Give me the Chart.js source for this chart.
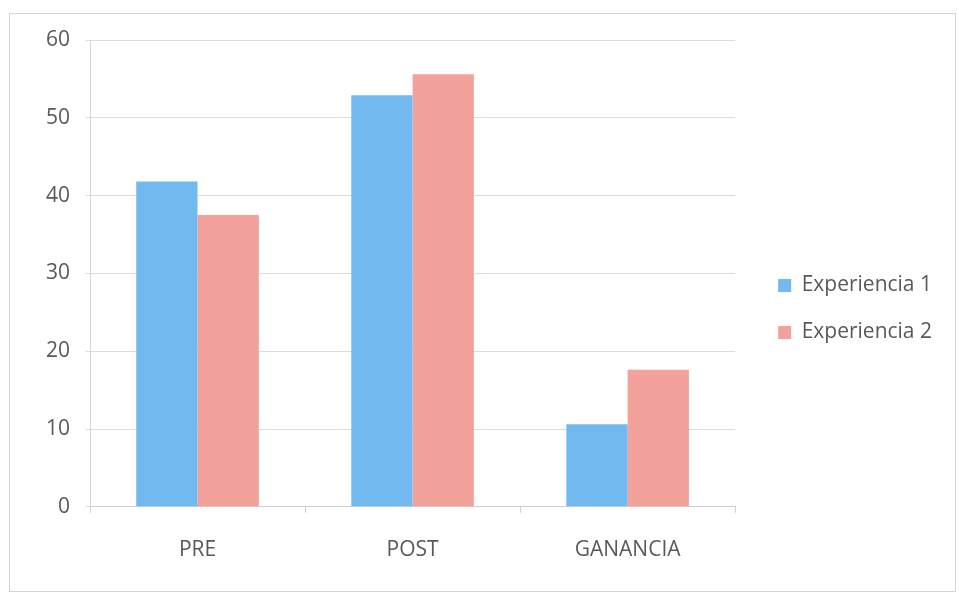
<!DOCTYPE html>
<html>
<head>
<meta charset="utf-8">
<script src="https://cdn.jsdelivr.net/npm/chart.js@4/dist/chart.umd.min.js"></script>
<style>
  html, body { margin: 0; padding: 0; background: #ffffff; }
  #wrap { position: relative; width: 959px; height: 596px; }
</style>
</head>
<body>
<div id="wrap"><canvas id="c" width="959" height="596"></canvas></div>
<script>
const categories = ["PRE", "POST", "GANANCIA"];
const experiencia1 = [41.8, 52.9, 10.6];
const experiencia2 = [37.5, 55.6, 17.6];
const yTicks = [0, 10, 20, 30, 40, 50, 60];

const framePlugin = {
  id: 'frame',
  beforeDraw(chart) {
    const ctx = chart.ctx;
    ctx.save();
    ctx.fillStyle = '#ffffff';
    ctx.fillRect(0, 0, chart.width, chart.height);
    ctx.strokeStyle = '#d4d4d4';
    ctx.lineWidth = 1;
    ctx.strokeRect(9.5, 13.5, 946, 578);
    ctx.restore();
  },
  afterLayout(chart) {
    const lg = chart.legend;
    if (lg) {
      lg.left += 17; lg.right += 17;
      lg.top -= 5; lg.bottom -= 5;
    }
  }
};

new Chart(document.getElementById('c'), {
  type: 'bar',
  data: {
    labels: categories,
    datasets: [
      { label: 'Experiencia 1', data: experiencia1, backgroundColor: '#72b9ef', borderWidth: 0 },
      { label: 'Experiencia 2', data: experiencia2, backgroundColor: '#f2a29b', borderWidth: 0 }
    ]
  },
  options: {
    responsive: false,
    animation: false,
    devicePixelRatio: 1,
    layout: { padding: { left: 30, top: 40, right: 34, bottom: 8 } },
    datasets: { bar: { categoryPercentage: 0.57, barPercentage: 1.0 } },
    plugins: {
      legend: {
        position: 'right',
        align: 'center',
        labels: {
          boxWidth: 13, boxHeight: 13,
          padding: 26,
          color: '#595959',
          font: { family: 'Open Sans', size: 21 }
        }
      },
      tooltip: { enabled: false }
    },
    scales: {
      x: {
        grid: { display: true, drawOnChartArea: false, color: '#d0d0d0', tickLength: 6 },
        border: { color: '#cfcfcf' },
        ticks: { color: '#595959', font: { family: 'Open Sans', size: 21 }, padding: 25 }
      },
      y: {
        min: 0, max: 60,
        afterBuildTicks(axis) { axis.ticks = yTicks.map(v => ({ value: v })); },
        grid: { color: '#dcdcdc', tickLength: 4 },
        border: { color: '#d6d6d6' },
        ticks: { color: '#595959', font: { family: 'Open Sans', size: 21 }, padding: 16 }
      }
    }
  },
  plugins: [framePlugin]
});
</script>
</body>
</html>
